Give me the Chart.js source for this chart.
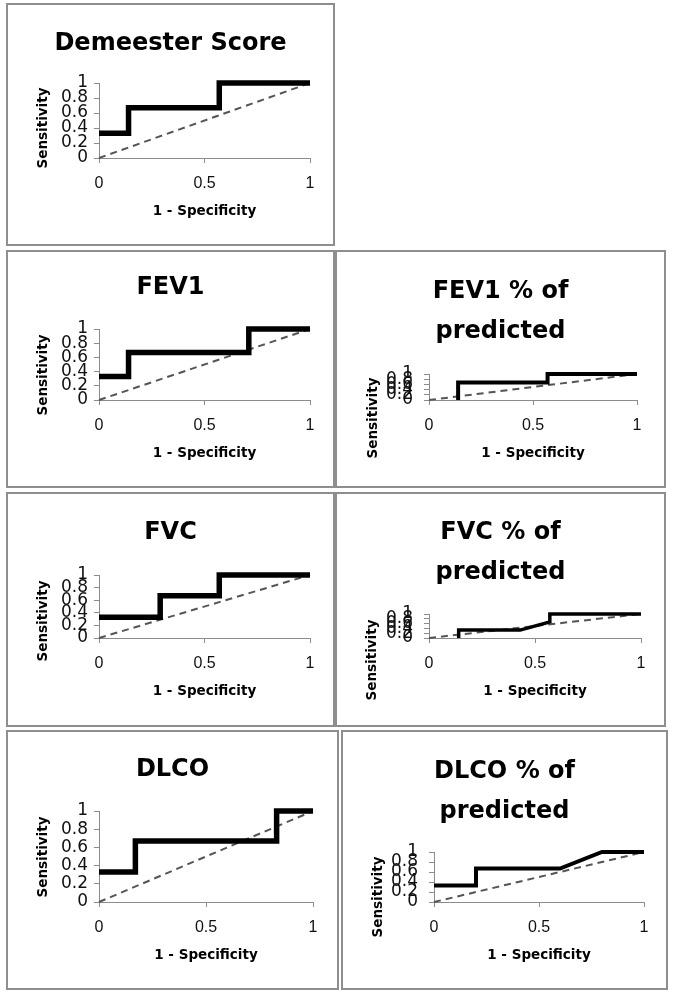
<!DOCTYPE html>
<html>
<head>
<meta charset="utf-8">
<script src="https://cdn.jsdelivr.net/npm/chart.js@4/dist/chart.umd.min.js"></script>
<style>
  body { margin: 0; background: #fff; }
  .painel { position: absolute; box-sizing: border-box; border: 2px solid #8e8e8e; background: #fff; }
  .painel canvas { position: absolute; left: 0; top: 0; }
</style>
</head>
<body>
<div id="pagina"></div>
<script>
const ticksX = [0, 0.5, 1];
const ticksY = [0, 0.2, 0.4, 0.6, 0.8, 1];

const diagonalX = [0, 1];
const diagonalY = [0, 1];

const demeesterX = [0, 0.14, 0.14, 0.57, 0.57, 1];
const demeesterY = [0.33, 0.33, 0.67, 0.67, 1, 1];

const fev1X = [0, 0.14, 0.14, 0.71, 0.71, 1];
const fev1Y = [0.33, 0.33, 0.67, 0.67, 1, 1];

const fev1PctX = [0.14, 0.14, 0.57, 0.57, 1];
const fev1PctY = [0, 0.67, 0.67, 1, 1];

const fvcX = [0, 0.29, 0.29, 0.57, 0.57, 1];
const fvcY = [0.33, 0.33, 0.67, 0.67, 1, 1];

const fvcPctX = [0.14, 0.14, 0.43, 0.57, 0.57, 1];
const fvcPctY = [0, 0.33, 0.33, 0.67, 1, 1];

const dlcoX = [0, 0.17, 0.17, 0.83, 0.83, 1];
const dlcoY = [0.33, 0.33, 0.67, 0.67, 1, 1];

const dlcoPctX = [0, 0.2, 0.2, 0.6, 0.8, 1];
const dlcoPctY = [0.33, 0.33, 0.67, 0.67, 1, 1];

// posição de cada quadro na página (px)
const paineis = [
  { titulo: ['Demeester Score'], xs: demeesterX, ys: demeesterY, caixa: {x: 6, y: 3, w: 329, h: 243},
    area: {l: 99, t: 83, r: 310, b: 158}, tituloY: 44, eixoXY: 211, sens: {x: 43, y: 128}, linha: 5.5, padY: 6 },
  { titulo: ['FEV1'], xs: fev1X, ys: fev1Y, caixa: {x: 6, y: 250, w: 329, h: 238},
    area: {l: 99, t: 329, r: 310, b: 400}, tituloY: 288, eixoXY: 453, sens: {x: 43, y: 375}, linha: 5.5, padY: 6 },
  { titulo: ['FEV1 % of', 'predicted'], xs: fev1PctX, ys: fev1PctY, caixa: {x: 335, y: 250, w: 331, h: 238},
    area: {l: 429, t: 374, r: 637, b: 400}, tituloY: 292, eixoXY: 453, sens: {x: 373, y: 418}, linha: 4, padY: 11 },
  { titulo: ['FVC'], xs: fvcX, ys: fvcY, caixa: {x: 6, y: 492, w: 329, h: 235},
    area: {l: 99, t: 575, r: 310, b: 638}, tituloY: 533, eixoXY: 691, sens: {x: 43, y: 621}, linha: 5.5, padY: 6 },
  { titulo: ['FVC % of', 'predicted'], xs: fvcPctX, ys: fvcPctY, caixa: {x: 335, y: 492, w: 331, h: 235},
    area: {l: 429, t: 614, r: 641, b: 638}, tituloY: 533, eixoXY: 691, sens: {x: 372, y: 660}, linha: 3.5, padY: 11 },
  { titulo: ['DLCO'], xs: dlcoX, ys: dlcoY, caixa: {x: 6, y: 730, w: 333, h: 260},
    area: {l: 99, t: 811, r: 313, b: 902}, tituloY: 770, eixoXY: 955, sens: {x: 43, y: 857}, linha: 5.5, padY: 6 },
  { titulo: ['DLCO % of', 'predicted'], xs: dlcoPctX, ys: dlcoPctY, caixa: {x: 341, y: 730, w: 327, h: 260},
    area: {l: 434, t: 852, r: 644, b: 902}, tituloY: 772, eixoXY: 955, sens: {x: 378, y: 897}, linha: 4, padY: 11 }
];

// titulo "Sensitivity" desenhado à mão para poder ficar fora do centro
const tituloEixoY = {
  id: 'tituloEixoY',
  afterDraw(chart, args, opts) {
    const ctx = chart.ctx;
    ctx.save();
    ctx.translate(opts.x, opts.y);
    ctx.rotate(-Math.PI / 2);
    ctx.font = 'bold 13.5px "DejaVu Sans"';
    ctx.fillStyle = '#000';
    ctx.textAlign = 'center';
    ctx.textBaseline = 'middle';
    ctx.fillText(opts.texto, 0, 0);
    ctx.restore();
  }
};

function pontos(xs, ys) {
  return xs.map((x, i) => ({ x: x, y: ys[i] }));
}

const corEixo = '#8c8c8c';
const alturaTitulo = 40;
const alturaEixoX = 16.2;

paineis.forEach(function(p, n) {
  const div = document.createElement('div');
  div.className = 'painel';
  div.style.left = p.caixa.x + 'px';
  div.style.top = p.caixa.y + 'px';
  div.style.width = p.caixa.w + 'px';
  div.style.height = p.caixa.h + 'px';

  const W = p.caixa.w - 4;
  const H = p.caixa.h - 4;
  const ox = p.caixa.x + 2;
  const oy = p.caixa.y + 2;

  const canvas = document.createElement('canvas');
  canvas.id = 'grafico' + n;
  canvas.width = W;
  canvas.height = H;
  div.appendChild(canvas);
  document.getElementById('pagina').appendChild(div);

  // margem igual dos dois lados para o título ficar centrado no quadro
  const margem = (ox + W) - p.area.r;
  const larguraY = p.area.l - ox - margem;
  const alturaX = H - (p.area.b - oy);
  const padTitTopo = p.tituloY - oy - alturaTitulo / 2;
  const padTitBase = (p.area.t - oy) - padTitTopo - alturaTitulo * p.titulo.length;
  const padEixoX = H - alturaEixoX / 2 - (p.eixoXY - oy);

  new Chart(canvas.getContext('2d'), {
    type: 'line',
    data: {
      datasets: [{
        data: pontos(p.xs, p.ys),
        borderColor: '#000',
        borderWidth: p.linha,
        pointRadius: 0,
        tension: 0,
        fill: false,
        clip: false
      }, {
        data: pontos(diagonalX, diagonalY),
        borderColor: '#555',
        borderWidth: 2,
        borderDash: [7, 5],
        pointRadius: 0,
        fill: false,
        clip: false
      }]
    },
    options: {
      responsive: false,
      animation: false,
      layout: { padding: { left: margem, top: 0, bottom: 0, right: margem } },
      plugins: {
        legend: { display: false },
        tooltip: { enabled: false },
        title: {
          display: true,
          text: p.titulo,
          color: '#000',
          font: { family: 'DejaVu Sans', size: 24, weight: 'bold', lineHeight: alturaTitulo / 24 },
          padding: { top: padTitTopo, bottom: padTitBase }
        },
        tituloEixoY: { texto: 'Sensitivity', x: p.sens.x - ox, y: p.sens.y - oy }
      },
      scales: {
        x: {
          type: 'linear',
          min: 0,
          max: 1,
          afterBuildTicks: function(eixo) { eixo.ticks = ticksX.map(v => ({ value: v })); },
          afterFit: function(eixo) { eixo.height = alturaX; },
          ticks: {
            color: '#111',
            padding: 11,
            maxRotation: 0,
            autoSkip: false,
            callback: function(v) { return String(v); },
            font: { family: 'Liberation Sans', size: 16 }
          },
          grid: { drawOnChartArea: false, drawTicks: true, tickLength: 5, color: corEixo },
          border: { display: true, color: corEixo },
          title: {
            display: true,
            text: '1 - Specificity',
            color: '#000',
            font: { family: 'DejaVu Sans', size: 13.5, weight: 'bold', lineHeight: 1.2 },
            padding: { top: 0, bottom: padEixoX }
          }
        },
        y: {
          type: 'linear',
          min: 0,
          max: 1,
          afterBuildTicks: function(eixo) { eixo.ticks = ticksY.map(v => ({ value: v })); },
          afterFit: function(eixo) { eixo.width = larguraY; },
          ticks: {
            color: '#111',
            padding: p.padY,
            autoSkip: false,
            callback: function(v) { return String(v); },
            font: { family: 'DejaVu Sans', size: 17 }
          },
          grid: { drawOnChartArea: false, drawTicks: true, tickLength: 5, color: corEixo },
          border: { display: true, color: corEixo },
          title: { display: false }
        }
      }
    },
    plugins: [tituloEixoY]
  });
});
</script>
</body>
</html>
